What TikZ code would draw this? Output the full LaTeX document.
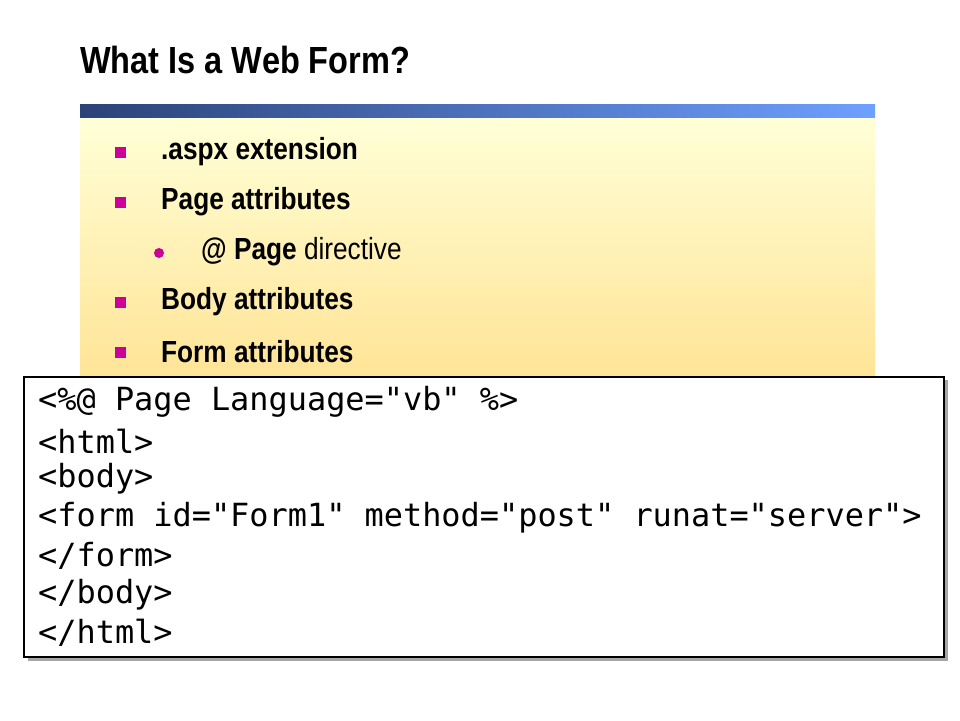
\documentclass[tikz,border=0pt]{standalone}
\usepackage{fontspec}
\setmainfont{Liberation Sans}
\setmonofont{DejaVu Sans Mono}
\begin{document}
\begin{tikzpicture}[x=1pt,y=-1pt,
  bul/.style={fill={rgb,255:red,204;green,0;blue,153}},
  item/.style={anchor=west,inner sep=0,xscale=0.86,font=\fontsize{30.5}{33}\selectfont\bfseries},
  code/.style={anchor=west,inner sep=0,font=\fontsize{31.9}{34}\ttfamily}]
\useasboundingbox (0,0) rectangle (960,720);
\fill[white] (0,0) rectangle (960,720);
\node[anchor=west,inner sep=0,xscale=0.86,font=\fontsize{37.8}{40}\selectfont\bfseries] (title) at (80,60) {What Is a Web Form?};
\shade[top color={rgb,255:red,255;green,255;blue,215},bottom color={rgb,255:red,255;green,228;blue,150}] (80,117) rectangle (875,377);
\shade[left color={rgb,255:red,44;green,66;blue,120},right color={rgb,255:red,110;green,160;blue,255}] (80,104) rectangle (875,117);
\foreach \y in {152,202,302,352} \fill[bul] (115,\y-5.5) rectangle (126,\y+5.5);
\fill[bul] (159,253) circle (5);
\node[item] (a) at (161,152) {.aspx extension};
\node[item] (b) at (161,202) {Page attributes};
\node[item] (c) at (201,252) {@ Page \mdseries directive};
\node[item] (d) at (161,302) {Body attributes};
\node[item] (e) at (161,352) {Form attributes};
\fill[gray!70] (28,380) rectangle (948,661);
\draw[line width=2.5pt,fill=white] (24,377) rectangle (944,657);
\node[code] (l1) at (38,402) {<\%@ Page Language="vb" \%>};
\node[code] (l2) at (38,441) {<html>};
\node[code] (l3) at (38,479) {<body>};
\node[code] (l4) at (38,518) {<form id="Form1" method="post" runat="server">};
\node[code] (l5) at (38,556) {</form>};
\node[code] (l6) at (38,595) {</body>};
\node[code] (l7) at (38,633) {</html>};
\end{tikzpicture}
\end{document}
